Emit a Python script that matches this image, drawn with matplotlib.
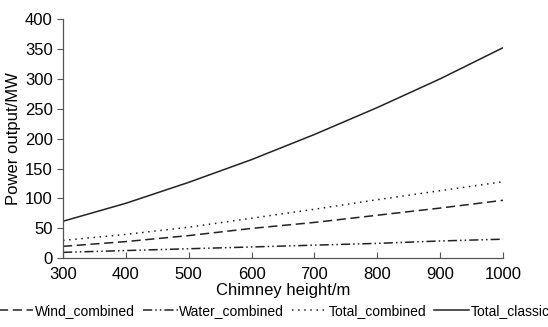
import matplotlib.pyplot as plt

plt.rcParams['font.family'] = ['Liberation Sans', 'DejaVu Sans']

# ── DATA ──────────────────────────────────────────────────────────────────
height = [300, 400, 500, 600, 700, 800, 900, 1000]
wind_combined = [20, 28, 38, 50, 60, 72, 84, 97]
water_combined = [10, 13, 16, 19, 22, 25, 29, 32]
total_combined = [30, 40, 52, 67, 82, 98, 113, 128]
total_classic = [62, 92, 127, 165, 207, 252, 300, 352]

# ── PLOT ──────────────────────────────────────────────────────────────────
fig = plt.figure(figsize=(5.48, 3.27), dpi=100, facecolor='w')
ax = fig.add_axes([0.115, 0.21, 0.803, 0.732])

lc = '#222222'
ax.plot(height, wind_combined, color=lc, lw=1.1, dashes=(6, 3), label='Wind_combined')
ax.plot(height, water_combined, color=lc, lw=1.1, dashes=(6, 2, 1, 2, 1, 2),
        label='Water_combined')
ax.plot(height, total_combined, color=lc, lw=1.1, dashes=(1, 3), label='Total_combined')
ax.plot(height, total_classic, color=lc, lw=1.1, label='Total_classic')

ax.set_xlim(300, 1000)
ax.set_ylim(0, 400)
ax.set_xticks(range(300, 1001, 100))
ax.set_yticks(range(0, 401, 50))

for s in ['top', 'right']:
    ax.spines[s].set_visible(False)
for s in ['left', 'bottom']:
    ax.spines[s].set_color('#555555')
    ax.spines[s].set_linewidth(0.9)
ax.tick_params(axis='x', direction='in', length=4, color='#555555', labelsize=12, pad=6)
ax.tick_params(axis='y', direction='out', length=4, color='#555555', labelsize=12)

ax.set_xlabel('Chimney height/m', fontsize=12, labelpad=1)
ax.set_ylabel('Power output/MW', fontsize=12, labelpad=3)

fig.legend(loc='lower center', bbox_to_anchor=(0.5, -0.01), ncol=4, frameon=False,
           fontsize=10, handlelength=2.5, handletextpad=0.1, columnspacing=0.6)

fig.savefig('out.png', dpi=100)
